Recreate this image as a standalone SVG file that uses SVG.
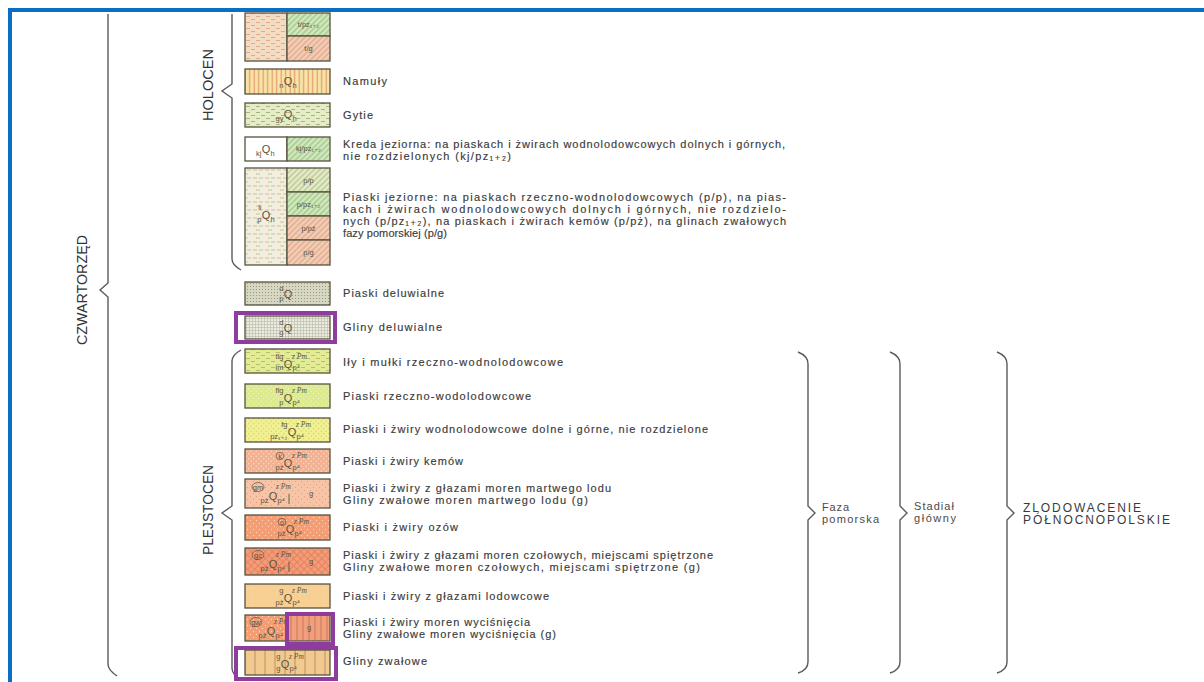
<svg xmlns="http://www.w3.org/2000/svg" width="1204" height="682" viewBox="0 0 1204 682">
<style>
.frame{stroke:#0a6fc2;stroke-width:4;fill:none}
.brace{stroke:#5a5a5a;stroke-width:1.4;fill:none}
.sw{stroke:#57523e;stroke-width:1.3}
.hl{stroke:#8e3c9e;stroke-width:4;fill:none}
.t{font-family:"Liberation Sans","DejaVu Sans",sans-serif;font-size:11px;fill:#3a3a3a;stroke:#3a3a3a;stroke-width:0.15}
.era{font-family:"Liberation Sans","DejaVu Sans",sans-serif;font-size:14px;fill:#333}
.side{font-family:"Liberation Sans","DejaVu Sans",sans-serif;font-size:11px;fill:#4a4a4a}
.big{font-family:"Liberation Sans","DejaVu Sans",sans-serif;font-size:12px;fill:#3a3a3a}
.q{font-family:"Liberation Sans","DejaVu Sans",sans-serif;font-size:11px;fill:#5a5444;text-anchor:middle}
.s{font-family:"Liberation Sans","DejaVu Sans",sans-serif;font-size:7.5px;fill:#5a5444}
.si{font-family:"Liberation Serif","DejaVu Serif",serif;font-size:7.5px;font-style:italic;fill:#5a5444}
.e{text-anchor:end}
.m{text-anchor:middle}
.circ{stroke:#6a5a4a;stroke-width:0.8;fill:none}
</style>
<defs>
<pattern id="pPeach" width="10" height="6" patternUnits="userSpaceOnUse"><rect width="10" height="6" fill="#f3dcc4"/><path d="M1 1.5h4M6 4.5h4" stroke="#d9a07c" stroke-width="0.8"/></pattern>
<pattern id="pVstr" width="4.5" height="5" patternUnits="userSpaceOnUse"><rect width="4.5" height="5" fill="#f6e4a6"/><path d="M2.2 0v5" stroke="#e49a70" stroke-width="1.2"/></pattern>
<pattern id="pDashG" width="10" height="6" patternUnits="userSpaceOnUse"><rect width="10" height="6" fill="#e6ecc6"/><path d="M1 1.5h4M6 4.5h4" stroke="#8fa874" stroke-width="0.8"/></pattern>
<pattern id="pHatchG" width="4" height="4" patternUnits="userSpaceOnUse" patternTransform="rotate(45)"><rect width="4" height="4" fill="#d3e9bf"/><path d="M2 0v4" stroke="#86b26c" stroke-width="0.9"/></pattern>
<pattern id="pHatchLG" width="4" height="4" patternUnits="userSpaceOnUse" patternTransform="rotate(45)"><rect width="4" height="4" fill="#e5edc8"/><path d="M2 0v4" stroke="#9cae78" stroke-width="0.9"/></pattern>
<pattern id="pHatchP" width="4" height="4" patternUnits="userSpaceOnUse" patternTransform="rotate(45)"><rect width="4" height="4" fill="#f2d0b8"/><path d="M2 0v4" stroke="#d98d70" stroke-width="0.9"/></pattern>
<pattern id="pMulti" width="12" height="8" patternUnits="userSpaceOnUse"><rect width="12" height="8" fill="#f3efdc"/><path d="M1 2h4" stroke="#d9a08a" stroke-width="0.8"/><path d="M7 2h4" stroke="#9cb6d2" stroke-width="0.8"/><path d="M4 6h4" stroke="#a5c090" stroke-width="0.8"/></pattern>
<pattern id="pDotGr" width="3" height="3" patternUnits="userSpaceOnUse"><rect width="3" height="3" fill="#d8d8c2"/><circle cx="1.5" cy="1.5" r="0.6" fill="#8e8e7c"/></pattern>
<pattern id="pGrid" width="3" height="3" patternUnits="userSpaceOnUse"><rect width="3" height="3" fill="#ecebe0"/><path d="M0 0.5h3M0.5 0v3" stroke="#b9b8a8" stroke-width="0.6"/></pattern>
<pattern id="pDashYG" width="10" height="6" patternUnits="userSpaceOnUse"><rect width="10" height="6" fill="#e3ec94"/><path d="M1 1.5h4M6 4.5h4" stroke="#a8b466" stroke-width="0.8"/></pattern>
<pattern id="pDotYG" width="5" height="5" patternUnits="userSpaceOnUse"><rect width="5" height="5" fill="#dcea8e"/><circle cx="1.2" cy="1.2" r="0.6" fill="#f6f8d8"/><circle cx="3.7" cy="3.7" r="0.6" fill="#f6f8d8"/></pattern>
<pattern id="pDotY" width="5" height="5" patternUnits="userSpaceOnUse"><rect width="5" height="5" fill="#f0f191"/><circle cx="1.2" cy="1.2" r="0.6" fill="#d8c070"/><circle cx="3.7" cy="3.7" r="0.6" fill="#d8c070"/></pattern>
<pattern id="pDotS" width="5" height="5" patternUnits="userSpaceOnUse"><rect width="5" height="5" fill="#f2b191"/><circle cx="1.2" cy="1.2" r="0.7" fill="#fbe2d2"/><circle cx="3.7" cy="3.7" r="0.7" fill="#fbe2d2"/></pattern>
<pattern id="pDotLS" width="6" height="6" patternUnits="userSpaceOnUse"><rect width="6" height="6" fill="#f6c4a6"/><circle cx="1.5" cy="1.5" r="0.5" fill="#e0906c"/><circle cx="4.5" cy="4.5" r="0.5" fill="#e0906c"/></pattern>
<pattern id="pDotO" width="6" height="6" patternUnits="userSpaceOnUse"><rect width="6" height="6" fill="#f49c72"/><circle cx="1.5" cy="1.5" r="0.7" fill="#fbd2bc"/><circle cx="4.5" cy="4.5" r="0.7" fill="#fbd2bc"/></pattern>
<pattern id="pCross" width="5" height="5" patternUnits="userSpaceOnUse" patternTransform="rotate(45)"><rect width="5" height="5" fill="#f39c78"/><path d="M2.5 0v5M0 2.5h5" stroke="#e27a58" stroke-width="0.7"/></pattern>
<pattern id="pLO" width="6" height="6" patternUnits="userSpaceOnUse"><rect width="6" height="6" fill="#f8d093"/><circle cx="3" cy="3" r="0.4" fill="#e8b070"/></pattern>
<pattern id="pVO" width="6" height="6" patternUnits="userSpaceOnUse"><rect width="6" height="6" fill="#f0a07c"/><path d="M3 0v6" stroke="#cf6d50" stroke-width="0.9"/></pattern>
<pattern id="pVT" width="10" height="6" patternUnits="userSpaceOnUse"><rect width="10" height="6" fill="#f2c98f"/><path d="M5 0v6" stroke="#b98a62" stroke-width="0.9"/></pattern>
</defs>
<rect width="1204" height="682" fill="#ffffff"/>
<g id="frame">
<path class="frame" d="M10 682V10H1204"/>
</g>
<g id="connectors">
<path class="brace" d="M108 14V283L100 290L108 297V664Q108 670 117 676"/>
<path class="brace" d="M232 14V84L222 91L232 98V259Q232 265 241 270"/>
<path class="brace" d="M241 350Q232 355 232 361V506L222 513L232 520V668Q232 674 240 680"/>
<path class="brace" d="M798 352Q808 356 808 364V506L815 513L808 520V662Q808 670 798 673"/>
<path class="brace" d="M890 352Q900 356 900 364V506L907 513L900 520V662Q900 670 890 673"/>
<path class="brace" d="M997 352Q1007 356 1007 364V506L1014 513L1007 520V662Q1007 670 997 673"/>
</g>
<g id="era-labels">
<text class="era m" transform="translate(87 290) rotate(-90)" textLength="110" lengthAdjust="spacingAndGlyphs">CZWARTORZĘD</text>
<text class="era m" transform="translate(213 85) rotate(-90)" textLength="72" lengthAdjust="spacingAndGlyphs">HOLOCEN</text>
<text class="era m" transform="translate(213 510) rotate(-90)" textLength="90" lengthAdjust="spacingAndGlyphs">PLEJSTOCEN</text>
</g>
<g id="node-torfy">
<rect class="sw" x="245" y="13" width="42" height="48" fill="url(#pPeach)"/>
<rect class="sw" x="287" y="13" width="43" height="23" fill="url(#pHatchG)"/>
<rect class="sw" x="287" y="36" width="43" height="25" fill="url(#pHatchP)"/>
<text class="s m" x="308.5" y="27">t/pz₁₊₂</text>
<text class="s m" x="308.5" y="51">t/g</text>
</g>
<g id="node-namuly">
<rect class="sw" x="245" y="69" width="85" height="25" fill="url(#pVstr)"/>
<text class="q" x="288" y="85">Q</text><text class="s e" x="283.5" y="88">n</text><text class="s" x="292.5" y="88">h</text>
<text class="t" x="343" y="85" textLength="44" lengthAdjust="spacing">Namuły</text>
</g>
<g id="node-gytie">
<rect class="sw" x="245" y="103" width="85" height="24" fill="url(#pDashG)"/>
<text class="q" x="288" y="118">Q</text><text class="s e" x="283.5" y="121">gy</text><text class="s" x="292.5" y="121">h</text>
<text class="t" x="343" y="119" textLength="30" lengthAdjust="spacing">Gytie</text>
</g>
<g id="node-kreda">
<rect class="sw" x="245" y="137" width="42" height="24" fill="#ffffff"/>
<rect class="sw" x="287" y="137" width="43" height="24" fill="url(#pHatchG)"/>
<text class="q" x="266" y="153">Q</text><text class="s e" x="261.5" y="156">kj</text><text class="s" x="270.5" y="156">h</text>
<text class="s m" x="308.5" y="151">kj/pz₁₊₂</text>
<text class="t" x="343" y="148" textLength="442" lengthAdjust="spacing">Kreda jeziorna: na piaskach i żwirach wodnolodowcowych dolnych i górnych,</text>
<text class="t" x="343" y="160" textLength="168" lengthAdjust="spacing">nie rozdzielonych (kj/pz₁₊₂)</text>
</g>
<g id="node-piaski-jeziorne">
<rect class="sw" x="245" y="168" width="42" height="97" fill="url(#pMulti)"/>
<rect class="sw" x="287" y="168" width="43" height="24" fill="url(#pHatchLG)"/>
<rect class="sw" x="287" y="192" width="43" height="24" fill="url(#pHatchG)"/>
<rect class="sw" x="287" y="216" width="43" height="24" fill="url(#pHatchP)"/>
<rect class="sw" x="287" y="240" width="43" height="25" fill="url(#pHatchP)"/>
<text class="q" x="266" y="219">Q</text><text class="s e" x="261.5" y="210">li</text><text class="s e" x="261.5" y="222">p</text><text class="s" x="270.5" y="222">h</text>
<text class="s m" x="308.5" y="183">p/p</text>
<text class="s m" x="308.5" y="207">p/pz₁₊₂</text>
<text class="s m" x="308.5" y="231">p/pż</text>
<text class="s m" x="308.5" y="255">p/g</text>
<text class="t" x="343" y="201" textLength="443" lengthAdjust="spacing">Piaski jeziorne: na piaskach rzeczno-wodnolodowcowych (p/p), na pias-</text>
<text class="t" x="343" y="213" textLength="443" lengthAdjust="spacing">kach i żwirach wodnolodowcowych dolnych i górnych, nie rozdzielo-</text>
<text class="t" x="343" y="225" textLength="443" lengthAdjust="spacing">nych (p/pz₁₊₂), na piaskach i żwirach kemów (p/pż), na glinach zwałowych</text>
<text class="t" x="343" y="237" textLength="104" lengthAdjust="spacing">fazy pomorskiej (p/g)</text>
</g>
<g id="node-piaski-deluwialne">
<rect class="sw" x="245" y="282" width="85" height="23" fill="url(#pDotGr)"/>
<text class="q" x="288" y="298">Q</text><text class="s e" x="283.5" y="291">d</text><text class="s e" x="283.5" y="301">p</text>
<text class="t" x="343" y="297" textLength="101" lengthAdjust="spacing">Piaski deluwialne</text>
</g>
<g id="node-gliny-deluwialne">
<rect class="sw" x="245" y="316" width="85" height="23" fill="url(#pGrid)"/>
<text class="q" x="288" y="332">Q</text><text class="s e" x="283.5" y="325">d</text><text class="s e" x="283.5" y="335">g</text>
<rect class="hl" x="236" y="313" width="99" height="29"/>
<text class="t" x="343" y="331" textLength="99" lengthAdjust="spacing">Gliny deluwialne</text>
</g>
<g id="node-ily">
<rect class="sw" x="245" y="349" width="85" height="24" fill="url(#pDashYG)"/>
<text class="q" x="288" y="368">Q</text><text class="s e" x="283.5" y="359">flg</text><text class="s e" x="283.5" y="370">im</text><text class="si" x="292" y="359">z Pm</text><text class="s" x="292.5" y="370">p⁴</text>
<text class="t" x="343" y="366" textLength="220" lengthAdjust="spacing">Iły i mułki rzeczno-wodnolodowcowe</text>
</g>
<g id="node-piaski-rzeczno">
<rect class="sw" x="245" y="384" width="85" height="24" fill="url(#pDotYG)"/>
<text class="q" x="288" y="402">Q</text><text class="s e" x="283.5" y="393">flg</text><text class="s e" x="283.5" y="405">p</text><text class="si" x="292" y="393">z Pm</text><text class="s" x="292.5" y="405">p⁴</text>
<text class="t" x="343" y="400" textLength="188" lengthAdjust="spacing">Piaski rzeczno-wodolodowcowe</text>
</g>
<g id="node-wodnolodowcowe">
<rect class="sw" x="245" y="418" width="85" height="24" fill="url(#pDotY)"/>
<text class="q" x="292" y="436">Q</text><text class="s e" x="287.5" y="427">fg</text><text class="s e" x="287.5" y="439">pz₁₊₂</text><text class="si" x="296" y="427">z Pm</text><text class="s" x="296.5" y="439">p⁴</text>
<text class="t" x="343" y="433" textLength="365" lengthAdjust="spacing">Piaski i żwiry wodnolodowcowe dolne i górne, nie rozdzielone</text>
</g>
<g id="node-kemow">
<rect class="sw" x="245" y="449" width="85" height="24" fill="url(#pDotS)"/>
<text class="q" x="288" y="467">Q</text><ellipse class="circ" cx="280" cy="456" rx="4" ry="3.6"/><text class="s m" x="280" y="458.5">k</text><text class="s e" x="283.5" y="470">pż</text><text class="si" x="292" y="458">z Pm</text><text class="s" x="292.5" y="470">p⁴</text>
<text class="t" x="343" y="465" textLength="120" lengthAdjust="spacing">Piaski i żwiry kemów</text>
</g>
<g id="node-martwego-lodu">
<rect class="sw" x="245" y="479" width="85" height="29" fill="url(#pDotLS)"/>
<ellipse class="circ" cx="258" cy="487" rx="6" ry="4.5"/><text class="s m" x="258" y="489.5">gm</text>
<text class="q" x="273" y="500">Q</text><text class="s e" x="268.5" y="503">pż</text><text class="si" x="276" y="489">z Pm</text><text class="s" x="277.5" y="503">p⁴</text>
<path d="M289 494v10" stroke="#5a5444" stroke-width="0.9"/>
<text class="s" x="309" y="496">g</text>
<text class="t" x="343" y="492" textLength="268" lengthAdjust="spacing">Piaski i żwiry z głazami moren martwego lodu</text>
<text class="t" x="343" y="504" textLength="245" lengthAdjust="spacing">Gliny zwałowe moren martwego lodu (g)</text>
</g>
<g id="node-ozow">
<rect class="sw" x="245" y="515" width="85" height="25" fill="url(#pDotO)"/>
<text class="q" x="290" y="533">Q</text><ellipse class="circ" cx="282" cy="522" rx="4" ry="3.6"/><text class="s m" x="282" y="524.5">o</text><text class="s e" x="285.5" y="536">pż</text><text class="si" x="294" y="524">z Pm</text><text class="s" x="294.5" y="536">p⁴</text>
<text class="t" x="343" y="531" textLength="115" lengthAdjust="spacing">Piaski i żwiry ozów</text>
</g>
<g id="node-czolowych">
<rect class="sw" x="245" y="548" width="85" height="27" fill="url(#pCross)"/>
<ellipse class="circ" cx="258" cy="555" rx="6" ry="4.5"/><text class="s m" x="258" y="557.5">gc</text>
<text class="q" x="273" y="568">Q</text><text class="s e" x="268.5" y="571">pż</text><text class="si" x="276" y="557">z Pm</text><text class="s" x="277.5" y="571">p⁴</text>
<path d="M289 562v10" stroke="#5a5444" stroke-width="0.9"/>
<text class="s" x="309" y="564">g</text>
<text class="t" x="343" y="559" textLength="370" lengthAdjust="spacing">Piaski i żwiry z głazami moren czołowych, miejscami spiętrzone</text>
<text class="t" x="343" y="571" textLength="357" lengthAdjust="spacing">Gliny zwałowe moren czołowych, miejscami spiętrzone (g)</text>
</g>
<g id="node-lodowcowe">
<rect class="sw" x="245" y="584" width="85" height="24" fill="url(#pLO)"/>
<text class="q" x="288" y="602">Q</text><text class="s e" x="283.5" y="593">g</text><text class="s e" x="283.5" y="605">pż</text><text class="si" x="292" y="593">z Pm</text><text class="s" x="292.5" y="605">p⁴</text>
<text class="t" x="343" y="600" textLength="206" lengthAdjust="spacing">Piaski i żwiry z głazami lodowcowe</text>
</g>
<g id="node-wycisniecia">
<rect class="sw" x="245" y="615" width="85" height="26" fill="url(#pDotO)"/>
<rect x="288" y="616" width="41" height="24" fill="url(#pVO)"/>
<ellipse class="circ" cx="256" cy="622" rx="6" ry="4.5"/><text class="s m" x="256" y="624.5">gw</text>
<text class="q" x="271" y="635">Q</text><text class="s e" x="266.5" y="638">pż</text><text class="si" x="274" y="624">z Pm</text><text class="s" x="275.5" y="638">p⁴</text>
<text class="s" x="307" y="630">g</text>
<rect class="hl" x="287" y="614" width="46" height="30"/>
<text class="t" x="343" y="626" textLength="187" lengthAdjust="spacing">Piaski i żwiry moren wyciśnięcia</text>
<text class="t" x="343" y="638" textLength="213" lengthAdjust="spacing">Gliny zwałowe moren wyciśnięcia (g)</text>
</g>
<g id="node-gliny-zwalowe">
<rect class="sw" x="245" y="650" width="85" height="25" fill="url(#pVT)"/>
<text class="q" x="285" y="668">Q</text><text class="s e" x="280.5" y="659">g</text><text class="s e" x="280.5" y="671">g</text><text class="si" x="289" y="659">z Pm</text><text class="s" x="289.5" y="671">p⁴</text>
<rect class="hl" x="236" y="648" width="100" height="31"/>
<text class="t" x="343" y="665" textLength="84" lengthAdjust="spacing">Gliny zwałowe</text>
</g>
<g id="node-faza">
<text class="side" x="822" y="511" textLength="27" lengthAdjust="spacing">Faza</text>
<text class="side" x="822" y="523" textLength="57" lengthAdjust="spacing">pomorska</text>
</g>
<g id="node-stadial">
<text class="side" x="914" y="510" textLength="40" lengthAdjust="spacing">Stadiał</text>
<text class="side" x="914" y="522" textLength="42" lengthAdjust="spacing">główny</text>
</g>
<g id="node-zlodowacenie">
<text class="big" x="1023" y="512" textLength="118" lengthAdjust="spacing">ZLODOWACENIE</text>
<text class="big" x="1023" y="524" textLength="147" lengthAdjust="spacing">PÓŁNOCNOPOLSKIE</text>
</g>
</svg>
